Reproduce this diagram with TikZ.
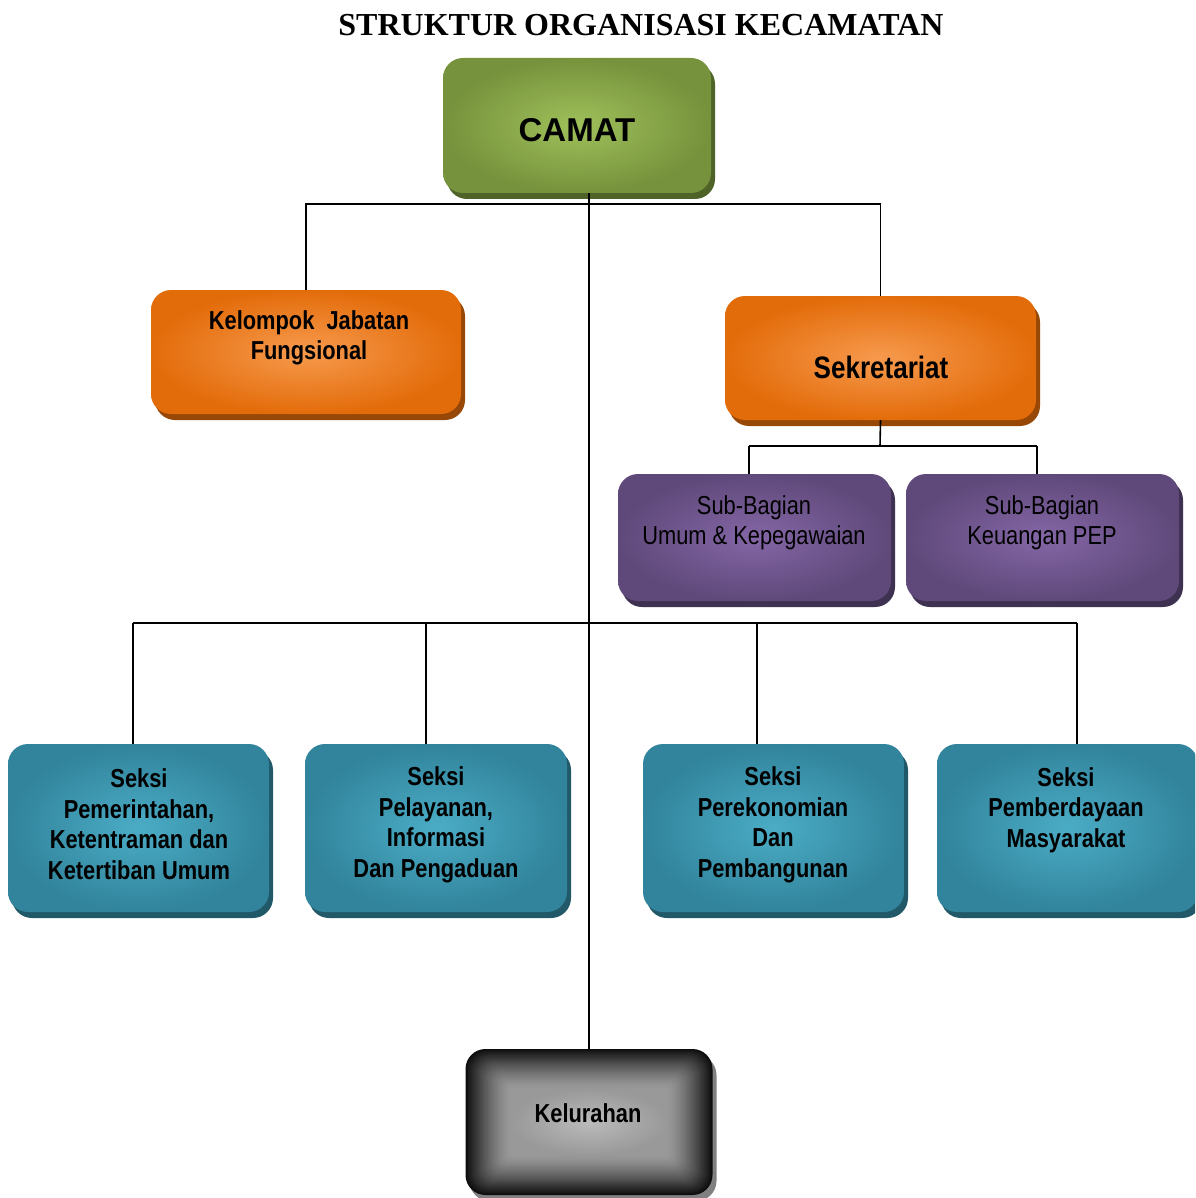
\documentclass[tikz,border=0pt]{standalone}
\usepackage{fontspec}
\setmainfont{Liberation Serif}
\newfontfamily\nar[FakeStretch=0.84]{Liberation Sans}
\newfontfamily\arl{Liberation Sans}
\usetikzlibrary{shadows,calc}
\definecolor{gIn}{HTML}{9FC05A}
\definecolor{gOut}{HTML}{76923C}
\definecolor{gSh}{HTML}{4F6228}
\definecolor{oIn}{HTML}{F79A4E}
\definecolor{oOut}{HTML}{E36C0A}
\definecolor{oSh}{HTML}{984806}
\definecolor{pIn}{HTML}{8466A6}
\definecolor{pOut}{HTML}{5F497A}
\definecolor{pSh}{HTML}{3F3151}
\definecolor{tIn}{HTML}{4BACC6}
\definecolor{tOut}{HTML}{31849B}
\definecolor{tSh}{HTML}{215968}
\definecolor{kIn}{HTML}{BBBBBB}
\definecolor{kMid}{HTML}{999999}
\definecolor{kOut}{HTML}{0D0D0D}
\definecolor{kSh}{HTML}{808080}
\begin{document}
\begin{tikzpicture}[x=1pt,y=-1pt,
  orgbox/.style n args={3}{shade, inner color=#1, outer color=#2, rounded corners=20pt,
     inner sep=0pt, general shadow={shadow xshift=4pt, shadow yshift=-6pt, fill=#3}},
  greenbox/.style={orgbox={gIn}{gOut}{gSh}},
  orangebox/.style={orgbox={oIn}{oOut}{oSh}},
  purplebox/.style={orgbox={pIn}{pOut}{pSh}},
  tealbox/.style={orgbox={tIn}{tOut}{tSh}},
  blackbox/.style={fill=kOut, rounded corners=20pt, inner sep=0pt,
     general shadow={shadow xshift=4pt, shadow yshift=-6pt, fill=kSh}},
  boldtxt/.style={align=center, inner sep=0pt, font=\nar\bfseries\fontsize{26}{30.5}\selectfont},
  regtxt/.style={align=center, inner sep=0pt, font=\nar\fontsize{26}{30}\selectfont},
  link/.style={line width=1.6pt, black}]
\clip (0,0) rectangle (1195,1198);
\fill[white] (0,0) rectangle (1195,1198);

% title
\node[font=\bfseries\fontsize{32}{36}\selectfont, inner sep=0pt] (title) at (641,25) {STRUKTUR ORGANISASI KECAMATAN};

% junction coordinates
\coordinate (jtop) at (589,204);
\coordinate (jsek) at (880,446);
\coordinate (b1) at (133,623);
\coordinate (b2) at (426,623);
\coordinate (b3) at (757,623);
\coordinate (b4) at (1077,623);
\coordinate (ss1) at (749,446);
\coordinate (ss2) at (1037,446);

% boxes
\node[greenbox, minimum width=268pt, minimum height=135pt] (camat) at (577,125.5) {};
\node[orangebox, minimum width=310pt, minimum height=124pt] (kjf) at (306,352) {};
\node[orangebox, minimum width=311pt, minimum height=124pt] (sek) at (880.5,358) {};
\node[purplebox, minimum width=273pt, minimum height=127pt] (sub1) at (754.5,537.5) {};
\node[purplebox, minimum width=273pt, minimum height=127pt] (sub2) at (1042.5,537.5) {};
\node[tealbox, minimum width=261pt, minimum height=168pt] (s1) at (138.5,828) {};
\node[tealbox, minimum width=262pt, minimum height=168pt] (s2) at (436,828) {};
\node[tealbox, minimum width=261pt, minimum height=168pt] (s3) at (773.5,828) {};
\node[tealbox, minimum width=261pt, minimum height=168pt] (s4) at (1067.5,828) {};
\node[blackbox, minimum width=247pt, minimum height=146pt] (kel) at (589,1122) {};
% soft rectangular glow inside the Kelurahan box
\foreach \i [evaluate=\i as \p using {100*(1-\i/36)^1.4}, evaluate=\i as \r using {max(20-\i*0.45,4)}] in {1,...,36}
  \fill[kOut!\p!kMid, rounded corners=\r pt]
    ($(kel.south west)+(\i*1.25,-\i*1.1)$) rectangle ($(kel.north east)+(-\i*1.25,\i*1.1)$);
\shade[inner color=kIn, outer color=kMid, rounded corners=4pt]
    ($(kel.south west)+(46,-40.5)$) rectangle ($(kel.north east)+(-46,40.5)$);

% connectors
\draw[link] (camat.south -| kel.north) -- (kel.north);
\draw[link] (kjf.north) |- (jtop) -| (sek.north);
\draw[link] (sek.south) -- (jsek);
\draw[link] (ss1) -- (ss2);
\draw[link] (ss1) -- (ss1 |- sub1.north);
\draw[link] (ss2) -- (ss2 |- sub2.north);
\draw[link] (b1) -- (b4);
\draw[link] (b1) -- (b1 |- s1.north);
\draw[link] (b2) -- (b2 |- s2.north);
\draw[link] (b3) -- (b3 |- s3.north);
\draw[link] (b4) -- (b4 |- s4.north);

% texts
\node[inner sep=0pt, font=\arl\bfseries\fontsize{33}{38}\selectfont] (camatt) at (577,130) {CAMAT};
\node[boldtxt] (kjft) at (309,338) {Kelompok\ \ Jabatan\\Fungsional};
\node[boldtxt, font=\nar\bfseries\fontsize{31}{36}\selectfont] (sekt) at (881,367) {Sekretariat};
\node[regtxt] (sub1t) at (754,523) {Sub-Bagian\\Umum \& Kepegawaian};
\node[regtxt] (sub2t) at (1042,523) {Sub-Bagian\\Keuangan PEP};
\node[boldtxt] (s1t) at (139,824) {Seksi\\Pemerintahan,\\Ketentraman dan\\Ketertiban Umum};
\node[boldtxt] (s2t) at (436,825) {Seksi\\Pelayanan,\\Informasi\\Dan Pengaduan};
\node[boldtxt] (s3t) at (773,825) {Seksi\\Perekonomian\\Dan\\Pembangunan};
\node[boldtxt] (s4t) at (1066,810) {Seksi\\Pemberdayaan\\Masyarakat};
\node[boldtxt] (kelt) at (588,1113) {Kelurahan};
\end{tikzpicture}
\end{document}
